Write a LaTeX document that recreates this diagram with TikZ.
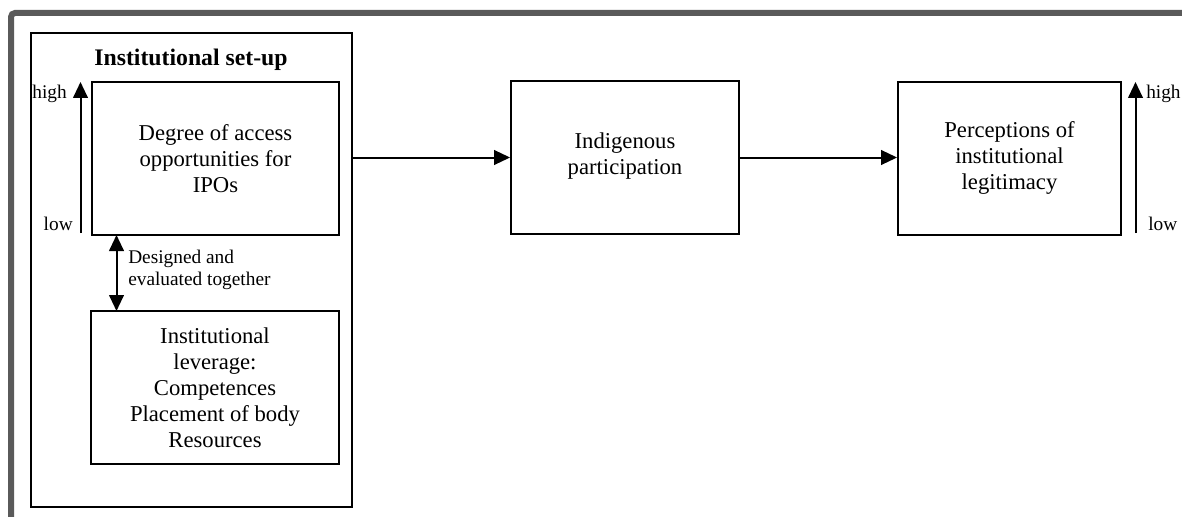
\documentclass[tikz,border=0pt]{standalone}
\usepackage{fontspec}
\setmainfont{Liberation Serif}
\usetikzlibrary{arrows.meta,calc}
\begin{document}
\begin{tikzpicture}[x=0.75pt,y=-0.75pt,
  box/.style={draw,line width=1.4pt,align=center,inner sep=0pt,
    font=\fontsize{17}{19.5}\selectfont},
  tip/.tip={Triangle[length=12pt,width=11pt]},
  arr/.style={line width=1.5pt,-tip},
  dblarr/.style={line width=1.5pt,tip-tip},
  scalelbl/.style={inner sep=0pt,font=\fontsize{14.5}{16}\selectfont},
  note/.style={inner sep=0pt,align=left,font=\fontsize{14.5}{16.5}\selectfont}]
\useasboundingbox (0,0) rectangle (1182,517);
% page frame
\draw[line width=4.5pt,color={rgb,255:red,90;green,90;blue,90},rounded corners=3pt]
  (11,520) -- (11,13) -- (1185,13);
% institutional set-up group
\node[draw,line width=1.4pt,minimum width=240.75pt,minimum height=355.5pt,inner sep=0pt]
  (outer) at (191.5,270) {};
\node[inner sep=0pt,font=\fontsize{17.8}{20}\selectfont\bfseries] (title) at (191,59.5) {Institutional set-up};
\node[box,minimum width=185.25pt,minimum height=114.75pt] (access) at (215.5,158.5)
  {Degree of access\\opportunities for\\IPOs};
\node[box,minimum width=186pt,minimum height=114.75pt] (leverage) at (215,387.5)
  {Institutional\\leverage:\\Competences\\Placement of body\\Resources};
% main chain
\node[box,minimum width=171pt,minimum height=114.75pt,text depth=6pt] (particip) at (625,157.5)
  {Indigenous\\participation};
\node[box,minimum width=167.25pt,minimum height=114.75pt,text depth=5pt] (legit) at (1009.5,158.5)
  {Perceptions of\\institutional\\legitimacy};
\draw[arr] (outer.east |- particip.west) -- (particip.west);
\draw[arr] (particip.east) -- (legit.west |- particip.east);
% access and leverage relation
\draw[dblarr] (116.5,235) coordinate (dtop) -- (116.5,311) coordinate (dbot);
\node[note,anchor=north west] (designed) at (128,250) {Designed and\\evaluated together};
% scales
\coordinate (llow) at (80.5,233);
\coordinate (lhigh) at (80.5,82);
\draw[arr] (llow) -- (lhigh);
\node[scalelbl,anchor=east] (lhightxt) at (67,94) {high};
\node[scalelbl,anchor=east] (llowtxt) at (73,224) {low};
\coordinate (rlow) at (1135.5,233);
\coordinate (rhigh) at (1135.5,82);
\draw[arr] (rlow) -- (rhigh);
\node[scalelbl,anchor=west] (rhightxt) at (1146,94) {high};
\node[scalelbl,anchor=west] (rlowtxt) at (1148,224) {low};
\end{tikzpicture}
\end{document}
